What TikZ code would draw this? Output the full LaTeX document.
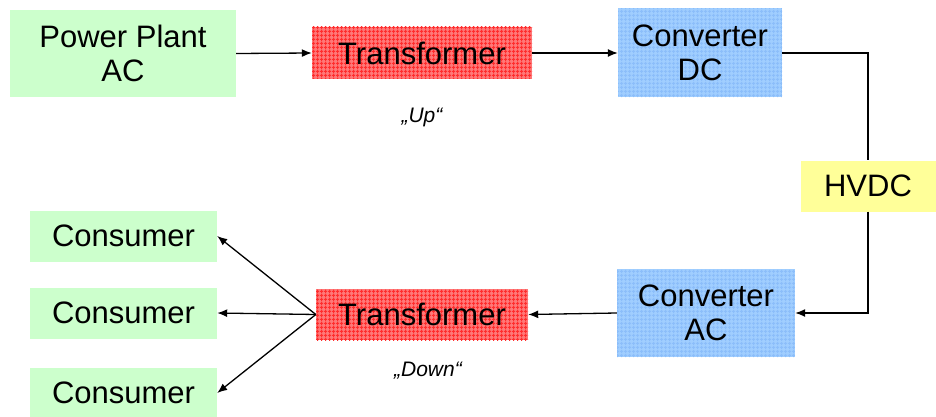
\documentclass[tikz,border=0pt]{standalone}
\usepackage{fontspec}
\setmainfont{Liberation Sans}
\usetikzlibrary{arrows.meta,patterns.meta}
\definecolor{boxgreen}{RGB}{204,255,204}
\definecolor{boxblue}{RGB}{160,206,255}
\definecolor{gridblue}{RGB}{140,190,250}
\definecolor{boxred}{RGB}{255,120,120}
\definecolor{gridred}{RGB}{255,45,45}
\definecolor{boxyellow}{RGB}{255,255,153}
\tikzdeclarepattern{
  name=finegrid,
  type=uncolored,
  bounding box={(0pt,0pt) and (4pt,4pt)},
  tile size={(4pt,4pt)},
  code={\draw[line width=1.1pt] (0pt,2pt) -- (4pt,2pt) (2pt,0pt) -- (2pt,4pt);}
}
\tikzset{
  box/.style={inner sep=0pt, align=center, font=\fontsize{31}{34}\selectfont, text=black},
  greenbox/.style={box, fill=boxgreen},
  bluebox/.style={box, fill=boxblue, postaction={pattern=finegrid, pattern color=gridblue}},
  redbox/.style={box, fill=boxred, postaction={pattern=finegrid, pattern color=gridred}},
  yellowbox/.style={box, fill=boxyellow},
  note/.style={font=\fontsize{21}{24}\selectfont\itshape},
  conn/.style={draw=black, line width=1.3pt, -{Latex[length=10pt,width=8pt]}},
}
\begin{document}
\begin{tikzpicture}[x=1pt,y=-1pt]
\useasboundingbox (0,0) rectangle (936,417);
\node[greenbox, minimum width=226pt, minimum height=87pt] (pp) at (123,53.5) {Power Plant\\AC};
\node[redbox, minimum width=220pt, minimum height=52pt] (tu) at (422,53) {Transformer};
\node[bluebox, minimum width=164pt, minimum height=89pt] (cdc) at (700,53) {Converter\\DC};
\node[yellowbox, minimum width=135pt, minimum height=51pt] (hv) at (868,186) {HVDC};
\node[bluebox, minimum width=178pt, minimum height=88pt] (cac) at (706,313) {Converter\\AC};
\node[redbox, minimum width=212pt, minimum height=51pt] (td) at (422,314.5) {Transformer};
\node[greenbox, minimum width=187pt, minimum height=51pt] (c1) at (123.5,236) {Consumer};
\node[greenbox, minimum width=187pt, minimum height=51pt] (c2) at (123.5,313) {Consumer};
\node[greenbox, minimum width=187pt, minimum height=50pt] (c3) at (123.5,393) {Consumer};
\node[note] (up) at (422,117) {„Up“};
\node[note] (down) at (428,371) {„Down“};
\coordinate (tl) at (td.west);
\draw[conn] (pp.east) -- (tu.west);
\draw[conn] (tu.east) -- (cdc.west);
\draw[line width=1.3pt] (cdc.east) -| (hv.north);
\draw[conn] (hv.south) |- (cac.east);
\draw[conn] (cac.west) -- (td.east);
\draw[conn] (tl) -- (c1.east);
\draw[conn] (tl) -- (c2.east);
\draw[conn] (tl) -- (c3.east);
\end{tikzpicture}
\end{document}
